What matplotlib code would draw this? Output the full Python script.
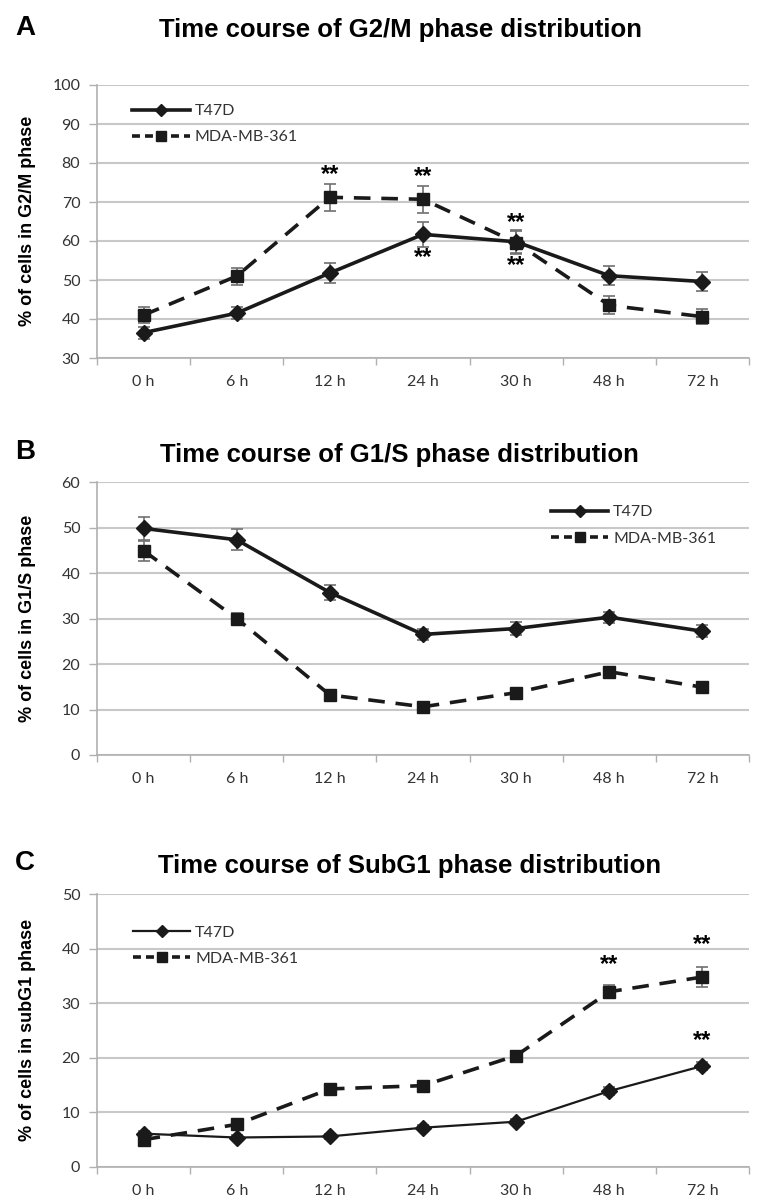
import matplotlib
matplotlib.use('Agg')
import matplotlib.pyplot as plt
from matplotlib.lines import Line2D
import numpy as np

# time points (categories)
times = ['0 h', '6 h', '12 h', '24 h', '30 h', '48 h', '72 h']

# G2/M
g2m_t47d = [36.5, 41.5, 51.8, 61.7, 59.8, 51.1, 49.6]
g2m_t47d_err = [1.5, 1.5, 2.5, 3.2, 3.0, 2.5, 2.5]
g2m_mda = [41.0, 51.0, 71.2, 70.7, 59.6, 43.5, 40.6]
g2m_mda_err = [2.0, 2.2, 3.5, 3.4, 3.0, 2.3, 2.0]

# G1/S
g1s_t47d = [49.8, 47.3, 35.7, 26.5, 27.8, 30.3, 27.2]
g1s_t47d_err = [2.5, 2.3, 1.7, 1.2, 1.5, 1.2, 1.3]
g1s_mda = [44.9, 30.0, 13.2, 10.6, 13.7, 18.3, 14.9]
g1s_mda_err = [2.2, 1.2, 0.6, 0.5, 0.6, 0.6, 0.5]

# SubG1
sub_t47d = [6.1, 5.4, 5.6, 7.2, 8.3, 13.9, 18.5]
sub_t47d_err = [0.5, 0.4, 0.4, 0.5, 0.5, 0.7, 0.8]
sub_mda = [5.0, 7.8, 14.3, 14.9, 20.4, 32.1, 34.8]
sub_mda_err = [0.5, 0.6, 0.6, 0.6, 0.8, 1.2, 1.8]

# significance marks: (time index, y position)
g2m_stars = [(2, 77.0), (3, 76.5), (3, 55.8), (4, 64.8), (4, 53.8)]
sub_stars = [(5, 37.0), (6, 40.7), (6, 23.1)]

W, H = 757, 1198
fig = plt.figure(figsize=(W / 100, H / 100), dpi=100)

tick_font = 'Lato'
grid_c = '#c8c8c8'
dash = (0, (4.6, 3.0))


def panel(top_px, ymin, ymax, ystep, t47d, t47d_err, mda, mda_err, lw_t):
    ax = fig.add_axes([97 / W, 1 - (top_px + 273) / H, 652 / W, 273 / H])
    x = np.arange(len(times)) + 0.5
    ax.errorbar(x, mda, yerr=mda_err, color='#1a1a1a', lw=2.6, ls=dash,
                marker='s', ms=9, ecolor='#707070', elinewidth=1.2, capsize=4,
                capthick=1.2, zorder=3)
    ax.errorbar(x, t47d, yerr=t47d_err, color='#1a1a1a', lw=lw_t, ls='-',
                marker='D', ms=8.5, ecolor='#707070', elinewidth=1.2, capsize=4,
                capthick=1.2, zorder=4)
    ax.set_xlim(0, len(times))
    ax.set_ylim(ymin, ymax)
    ax.set_yticks(np.arange(ymin, ymax + 0.1, ystep))
    ax.set_xticks(np.arange(len(times) + 1))
    ax.set_xticklabels([])
    ax.set_xticks(x, minor=True)
    ax.set_xticklabels(times, minor=True)
    ax.tick_params(axis='x', which='minor', length=0, pad=12, labelsize=11.5,
                   labelcolor='#333333')
    ax.tick_params(axis='x', which='major', length=5, color='#b0b0b0', width=1)
    ax.tick_params(axis='y', length=6, color='#b0b0b0', width=1, pad=6,
                   labelsize=11.5, labelcolor='#333333')
    for lab in ax.get_xticklabels(minor=True) + ax.get_yticklabels():
        lab.set_family(tick_font)
    ax.yaxis.grid(True, color=grid_c, lw=1.5)
    ax.set_axisbelow(True)
    for s in ['top', 'right']:
        ax.spines[s].set_visible(False)
    for s in ['left', 'bottom']:
        ax.spines[s].set_color('#b0b0b0')
        ax.spines[s].set_linewidth(1.2)
    return ax


def add_legend(ax, bx, by, lw_t):
    h = [Line2D([], [], color='#1a1a1a', lw=lw_t, marker='D', ms=6),
         Line2D([], [], color='#1a1a1a', lw=2.6, ls=(0, (2.2, 1.4)), marker='s', ms=7)]
    leg = ax.legend(h, ['T47D', 'MDA-MB-361'], loc='upper left', bbox_to_anchor=(bx, by),
                    frameon=False, handlelength=3.6, labelspacing=0.75,
                    borderpad=0, borderaxespad=0, handletextpad=0.3,
                    prop={'family': tick_font, 'size': 11.5})
    for t in leg.get_texts():
        t.set_color('#333333')
    return leg


def label_panel(letter, title, ylabel, y_letter, y_title, x_title, top_px):
    fig.text(25 / W, 1 - y_letter / H, letter, fontsize=20, fontweight='bold',
             family=['Liberation Sans', 'DejaVu Sans'], ha='center', va='center')
    fig.text(x_title / W, 1 - y_title / H, title, fontsize=18.5, fontweight='bold',
             family=['Liberation Sans', 'DejaVu Sans'], ha='center', va='center')
    fig.text(28 / W, 1 - (top_px + 136) / H, ylabel, rotation=90, fontsize=13,
             fontweight='bold', family=['Liberation Sans', 'DejaVu Sans'],
             ha='center', va='center')


# Panel A
axA = panel(85, 30, 100, 10, g2m_t47d, g2m_t47d_err, g2m_mda, g2m_mda_err, 2.6)
add_legend(axA, 0.054, 0.93, 2.6)
for i, yv in g2m_stars:
    axA.text(i + 0.5, yv, '**', ha='center', va='center', fontsize=17,
             fontweight='bold', family=['Liberation Sans', 'DejaVu Sans'])
label_panel('A', 'Time course of G2/M phase distribution',
            '% of cells in G2/M phase', 28, 30, 400, 85)

# Panel B
axB = panel(482, 0, 60, 10, g1s_t47d, g1s_t47d_err, g1s_mda, g1s_mda_err, 2.6)
add_legend(axB, 0.696, 0.915, 2.6)
label_panel('B', 'Time course of G1/S phase distribution',
            '% of cells in G1/S phase', 452, 455, 399, 482)

# Panel C
axC = panel(894, 0, 50, 10, sub_t47d, sub_t47d_err, sub_mda, sub_mda_err, 1.6)
add_legend(axC, 0.055, 0.885, 1.6)
for i, yv in sub_stars:
    axC.text(i + 0.5, yv, '**', ha='center', va='center', fontsize=17,
             fontweight='bold', family=['Liberation Sans', 'DejaVu Sans'])
label_panel('C', 'Time course of SubG1 phase distribution',
            '% of cells in subG1 phase', 863, 866, 410, 894)

fig.savefig('out.png', dpi=100)
